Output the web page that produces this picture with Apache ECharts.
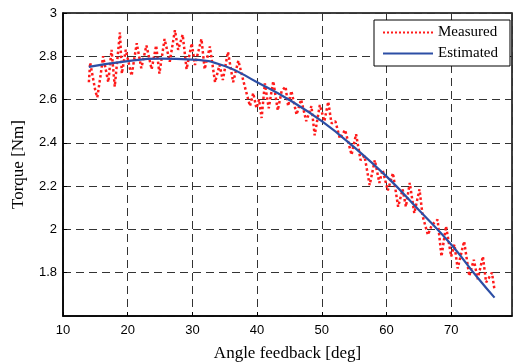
<!DOCTYPE html>
<html>
<head>
<meta charset="utf-8">
<script src="https://cdn.jsdelivr.net/npm/echarts@6/dist/echarts.min.js"></script>
<style>
  html, body { margin: 0; padding: 0; background: #fff; }
  #chart { width: 513px; height: 363px; }
</style>
</head>
<body>
<div id="chart"></div>
<script>
// measured torque (peaks and troughs)
const measuredX = [
  14.0, 14.2, 15.0, 15.3, 15.8, 16.2, 17.0, 17.5, 18.0, 18.8, 19.1, 19.7,
  20.6, 21.4, 22.1, 22.9, 23.7, 24.4, 24.9, 25.7, 26.5, 27.3, 27.8, 28.5,
  29.1, 29.9, 30.4, 31.4, 31.9, 32.7, 33.5, 34.2, 34.7, 35.5, 36.3, 37.1,
  38.1, 38.9, 39.4, 39.9, 40.3, 40.7, 41.2, 41.8, 42.5, 43.2, 43.8, 44.4,
  44.8, 45.3, 46.1, 46.8, 47.6, 48.4, 48.9, 49.7, 50.4, 51.0, 51.5, 52.1,
  52.8, 53.6, 54.6, 55.3, 56.0, 56.6, 57.4, 58.2, 58.9, 59.4, 60.2, 61.0,
  61.8, 62.5, 63.0, 63.6, 64.3, 65.1, 65.6, 66.4, 67.0, 67.9, 68.5, 69.2,
  70.0, 70.5, 71.0, 72.0, 72.8, 73.5, 74.1, 74.9, 75.4, 76.3, 76.7
];
const measuredY = [
  2.68, 2.77, 2.64, 2.61, 2.71, 2.80, 2.68, 2.83, 2.66, 2.91, 2.72, 2.83,
  2.71, 2.86, 2.745, 2.85, 2.74, 2.85, 2.72, 2.88, 2.775, 2.92, 2.83, 2.90,
  2.74, 2.86, 2.76, 2.88, 2.74, 2.845, 2.68, 2.76, 2.69, 2.82, 2.68, 2.78,
  2.66, 2.57, 2.63, 2.56, 2.60, 2.515, 2.675, 2.56, 2.685, 2.55, 2.64, 2.66,
  2.57, 2.64, 2.53, 2.60, 2.50, 2.57, 2.435, 2.575, 2.50, 2.59, 2.49, 2.50,
  2.42, 2.46, 2.345, 2.44, 2.32, 2.34, 2.205, 2.32, 2.215, 2.275, 2.18, 2.26,
  2.105, 2.185, 2.105, 2.215, 2.075, 2.185, 2.06, 1.975, 2.02, 2.045, 1.875, 2.015,
  1.875, 1.93, 1.82, 1.945, 1.785, 1.86, 1.77, 1.875, 1.755, 1.80, 1.72
];

// estimated torque (smooth fit)
const estimatedX = [14, 20, 25, 30, 35, 40, 45, 50, 55, 60, 65, 70, 74, 76.7];
const estimatedY = [2.751, 2.778, 2.789, 2.785, 2.755, 2.68, 2.598, 2.50, 2.38, 2.245, 2.09, 1.93, 1.78, 1.685];

const xTicks = [10, 20, 30, 40, 50, 60, 70];

const zip = (xs, ys) => xs.map((x, i) => [x, ys[i]]);

const chart = echarts.init(document.getElementById("chart"));

const axisFont = { fontFamily: "Liberation Sans, Arial, sans-serif", fontSize: 13, color: "#000" };
const nameFont = { fontFamily: "Liberation Serif, Times New Roman, serif", fontSize: 17, color: "#000" };
const gridLine = { show: true, lineStyle: { color: "#333", type: [8, 5], width: 1 } };

chart.setOption({
  animation: false,
  backgroundColor: "#fff",
  grid: {
    left: 63, right: 1, top: 13, bottom: 47,
    outerBoundsMode: "none",
    containLabel: false,
    show: true, borderColor: "#000", borderWidth: 1.5,
  },
  legend: {
    orient: "vertical",
    left: 374, top: 20,
    padding: [5, 12, 5, 8],
    itemGap: 6,
    itemWidth: 50, itemHeight: 14,
    backgroundColor: "#fff",
    borderColor: "#000", borderWidth: 1,
    borderRadius: 0,
    itemStyle: { opacity: 0 },
    textStyle: { fontFamily: "Liberation Serif, Times New Roman, serif", fontSize: 15, color: "#000" },
    data: ["Measured", "Estimated"],
  },
  xAxis: {
    type: "value",
    min: 10, max: 79.4, interval: 10,
    name: "Angle feedback [deg]",
    nameLocation: "middle", nameGap: 29,
    nameTextStyle: nameFont,
    axisLine: { show: true, lineStyle: { color: "#000", width: 1.5 } },
    axisTick: { show: true, inside: true, length: 4, lineStyle: { color: "#000" } },
    axisLabel: {
      ...axisFont, margin: 8,
      showMaxLabel: false,
      formatter: (v) => (xTicks.includes(v) ? String(v) : ""),
    },
    splitLine: gridLine,
  },
  yAxis: {
    type: "value",
    min: 1.6, max: 3, interval: 0.2,
    name: "Torque [Nm]",
    nameLocation: "middle", nameGap: 36,
    nameTextStyle: nameFont,
    axisLine: { show: true, lineStyle: { color: "#000", width: 1.5 } },
    axisTick: { show: true, inside: true, length: 4, lineStyle: { color: "#000" } },
    axisLabel: {
      ...axisFont, margin: 6,
      showMinLabel: false,
      formatter: (v) => {
        const r = Math.round(v * 10) / 10;
        return r === 3 || r === 2 ? String(r) : r.toFixed(1);
      },
    },
    splitLine: gridLine,
  },
  series: [
    {
      name: "Measured",
      type: "line",
      data: zip(measuredX, measuredY),
      symbol: "none",
      lineStyle: { color: "#ff1a1a", width: 2.5, type: "dotted" },
      itemStyle: { color: "#ff1a1a" },
      z: 2,
    },
    {
      name: "Estimated",
      type: "line",
      data: zip(estimatedX, estimatedY),
      smooth: true,
      symbol: "none",
      lineStyle: { color: "#2c4ea5", width: 2.2 },
      itemStyle: { color: "#2c4ea5" },
      z: 3,
    },
  ],
});
</script>
</body>
</html>
